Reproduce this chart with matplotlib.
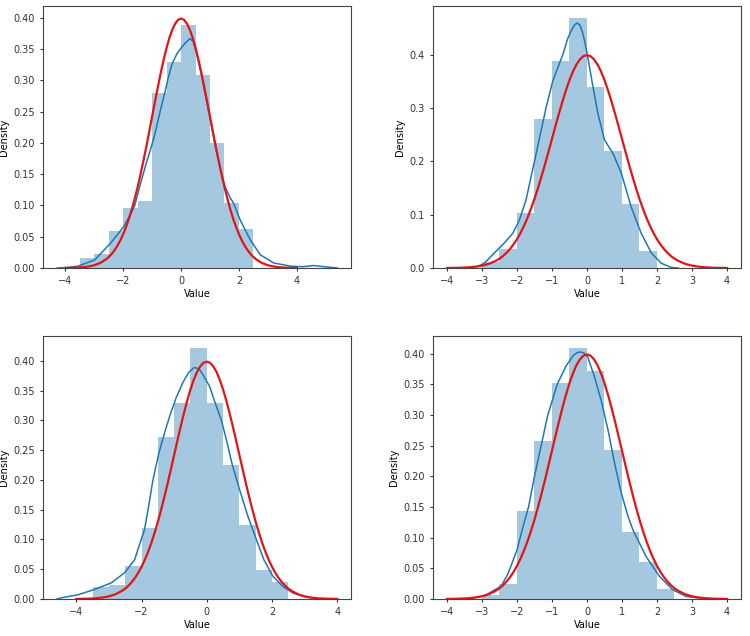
import matplotlib
matplotlib.use('Agg')
from matplotlib import pyplot as plt

# histogram bars: left bin edges (width 0.5) and densities, one set per panel
bins_tl = [-3.5, -3.0, -2.5, -2.0, -1.5, -1.0, -0.5, 0.0, 0.5, 1.0, 1.5, 2.0]
dens_tl = [0.0154, 0.0228, 0.0595, 0.096, 0.107, 0.280, 0.329, 0.389, 0.308, 0.200, 0.104, 0.063]
bins_tr = [-3.0, -2.5, -2.0, -1.5, -1.0, -0.5, 0.0, 0.5, 1.0, 1.5]
dens_tr = [0.011, 0.0355, 0.104, 0.279, 0.388, 0.4685, 0.340, 0.219, 0.1196, 0.0318]
bins_bl = [-3.5, -3.0, -2.5, -2.0, -1.5, -1.0, -0.5, 0.0, 0.5, 1.0, 1.5, 2.0]
dens_bl = [0.0207, 0.024, 0.056, 0.120, 0.273, 0.329, 0.421, 0.329, 0.225, 0.125, 0.048, 0.028]
bins_br = [-3.0, -2.5, -2.0, -1.5, -1.0, -0.5, 0.0, 0.5, 1.0, 1.5, 2.0]
dens_br = [0.007, 0.0244, 0.144, 0.257, 0.352, 0.409, 0.372, 0.243, 0.1085, 0.060, 0.016]

# kde curves
kde_x_tl = [-4.28, -3.9, -3.56, -2.98, -2.43, -2.0, -1.75, -1.6, -1.4, -1.2, -1.05, -0.9, -0.75, -0.62, -0.55,
            -0.45, -0.32, -0.15, 0.02, 0.15, 0.31, 0.42, 0.54, 0.7, 0.83, 1.0, 1.18, 1.35, 1.52, 1.7, 1.81,
            2.04, 2.39, 2.74, 3.2, 3.78, 4.2, 4.58, 4.95, 5.4]
kde_y_tl = [0.0, 0.001, 0.003, 0.013, 0.04, 0.065, 0.085, 0.1, 0.135, 0.168, 0.19, 0.215, 0.245, 0.27, 0.282,
            0.303, 0.325, 0.342, 0.353, 0.36, 0.367, 0.362, 0.343, 0.31, 0.279, 0.24, 0.195, 0.16, 0.13, 0.112, 0.104,
            0.077, 0.045, 0.021, 0.008, 0.003, 0.002, 0.004, 0.002, 0.0]
kde_x_tr = [-3.12, -2.93, -2.65, -2.36, -2.12, -1.93, -1.74, -1.5, -1.17, -0.98, -0.69, -0.55, -0.45, -0.35,
            -0.28, -0.2, -0.12, -0.05, 0.02, 0.17, 0.31, 0.5, 0.74, 0.98, 1.26, 1.55, 1.84, 2.12, 2.41, 2.6]
kde_y_tr = [0.003, 0.009, 0.028, 0.047, 0.065, 0.09, 0.128, 0.2, 0.3, 0.35, 0.4, 0.43, 0.445, 0.456,
            0.459, 0.455, 0.44, 0.42, 0.396, 0.34, 0.29, 0.24, 0.215, 0.178, 0.115, 0.065, 0.028, 0.009, 0.001, 0.0]
kde_x_bl = [-4.59, -4.46, -3.95, -3.44, -2.93, -2.52, -2.21, -2.01, -1.91, -1.8, -1.65, -1.47, -1.29, -1.12, -0.94,
            -0.73, -0.55, -0.39, -0.3, -0.2, -0.12, 0.09, 0.26, 0.45, 0.6, 0.77, 1.01, 1.26, 1.52, 1.75, 2.03,
            2.33, 2.64, 3.05, 3.46]
kde_y_bl = [0.0, 0.002, 0.007, 0.016, 0.027, 0.044, 0.066, 0.1, 0.116, 0.15, 0.2, 0.245, 0.28, 0.31, 0.338,
            0.364, 0.381, 0.389, 0.388, 0.384, 0.377, 0.357, 0.329, 0.3, 0.268, 0.228, 0.183, 0.139, 0.1, 0.066, 0.038,
            0.021, 0.01, 0.003, 0.0]
kde_x_br = [-3.3, -2.9, -2.45, -2.25, -2.0, -1.85, -1.67, -1.5, -1.31, -1.12, -0.85, -0.6, -0.38, -0.27, -0.17,
            -0.08, 0.02, 0.21, 0.4, 0.6, 0.79, 0.98, 1.17, 1.31, 1.69, 2.07, 2.45, 2.84, 3.3]
kde_y_br = [0.001, 0.006, 0.021, 0.042, 0.08, 0.113, 0.15, 0.2, 0.25, 0.3, 0.35, 0.38, 0.398, 0.402, 0.403,
            0.401, 0.395, 0.363, 0.325, 0.276, 0.221, 0.173, 0.135, 0.113, 0.069, 0.037, 0.015, 0.004, 0.001]

# red reference curve (same in every panel)
ref_x = [-4.0, -3.8, -3.6, -3.4, -3.2, -3.0, -2.8, -2.6, -2.5, -2.4, -2.3, -2.2, -2.1, -2.0, -1.9, -1.8, -1.7,
         -1.6, -1.5, -1.4, -1.3, -1.2, -1.1, -1.0, -0.9, -0.8, -0.7, -0.6, -0.5, -0.4, -0.3, -0.2, -0.1,
         0.0, 0.1, 0.2, 0.3, 0.4, 0.5, 0.6, 0.7, 0.8, 0.9, 1.0, 1.1, 1.2, 1.3, 1.4, 1.5, 1.6, 1.7, 1.8,
         1.9, 2.0, 2.1, 2.2, 2.3, 2.4, 2.5, 2.6, 2.8, 3.0, 3.2, 3.4, 3.6, 3.8, 4.0]
ref_y = [0.0001, 0.0003, 0.0006, 0.0012, 0.0024, 0.0044, 0.0079, 0.0136, 0.0175, 0.0224, 0.0283, 0.0355,
         0.0440, 0.0540, 0.0656, 0.0790, 0.0940, 0.1109, 0.1295, 0.1497, 0.1714, 0.1942, 0.2179, 0.2420,
         0.2661, 0.2897, 0.3123, 0.3332, 0.3521, 0.3683, 0.3814, 0.3910, 0.3970, 0.3989, 0.3970, 0.3910,
         0.3814, 0.3683, 0.3521, 0.3332, 0.3123, 0.2897, 0.2661, 0.2420, 0.2179, 0.1942, 0.1714, 0.1497,
         0.1295, 0.1109, 0.0940, 0.0790, 0.0656, 0.0540, 0.0440, 0.0355, 0.0283, 0.0224, 0.0175, 0.0136,
         0.0079, 0.0044, 0.0024, 0.0012, 0.0006, 0.0003, 0.0001]

panels = [
    (bins_tl, dens_tl, kde_x_tl, kde_y_tl, (-4.77, 5.87), 0.419, [-4, -2, 0, 2, 4], [0.0, 0.05, 0.10, 0.15, 0.20, 0.25, 0.30, 0.35, 0.40], '%.2f'),
    (bins_tr, dens_tr, kde_x_tr, kde_y_tr, (-4.4, 4.4), 0.491, [-4, -3, -2, -1, 0, 1, 2, 3, 4], [0.0, 0.1, 0.2, 0.3, 0.4], '%.1f'),
    (bins_bl, dens_bl, kde_x_bl, kde_y_bl, (-5.02, 4.42), 0.442, [-4, -2, 0, 2, 4], [0.0, 0.05, 0.10, 0.15, 0.20, 0.25, 0.30, 0.35, 0.40], '%.2f'),
    (bins_br, dens_br, kde_x_br, kde_y_br, (-4.4, 4.4), 0.429, [-4, -3, -2, -1, 0, 1, 2, 3, 4], [0.0, 0.05, 0.10, 0.15, 0.20, 0.25, 0.30, 0.35, 0.40], '%.2f'),
]

# axes rectangles in figure fractions (left, bottom, width, height)
rects = [
    (0.0573, 0.5786, 0.4107, 0.4120),
    (0.5773, 0.5786, 0.4107, 0.4120),
    (0.0573, 0.0582, 0.4107, 0.4135),
    (0.5773, 0.0582, 0.4107, 0.4135),
]

plt.rcParams['font.size'] = 7
plt.rcParams['axes.edgecolor'] = '#444444'
plt.rcParams['xtick.color'] = '#333333'
plt.rcParams['ytick.color'] = '#333333'
plt.rcParams['xtick.major.size'] = 2.5
plt.rcParams['ytick.major.size'] = 2.5

fig = plt.figure(figsize=(7.5, 6.36), dpi=100)

for (bins, dens, kx, ky, xlim, ytop, xt, yt, fmt), rect in zip(panels, rects):
    ax = fig.add_axes(rect)
    ax.bar(bins, dens, width=0.5, align='edge', color='#1f77b4', alpha=0.4, linewidth=0)
    ax.plot(kx, ky, color='#1f77b4', lw=1.1)
    ax.plot(ref_x, ref_y, color='#e41414', lw=1.6)
    ax.set_xlim(*xlim)
    ax.set_ylim(0, ytop)
    ax.set_xticks(xt)
    ax.set_yticks(yt)
    ax.set_yticklabels([fmt % v for v in yt])
    ax.set_xticklabels(['%d' % v if v >= 0 else '\u2212%d' % -v for v in xt])
    ax.set_xlabel('Value', labelpad=2)
    ax.set_ylabel('Density', labelpad=3)
    for s in ax.spines.values():
        s.set_linewidth(0.8)

fig.savefig('out.png', dpi=100)
